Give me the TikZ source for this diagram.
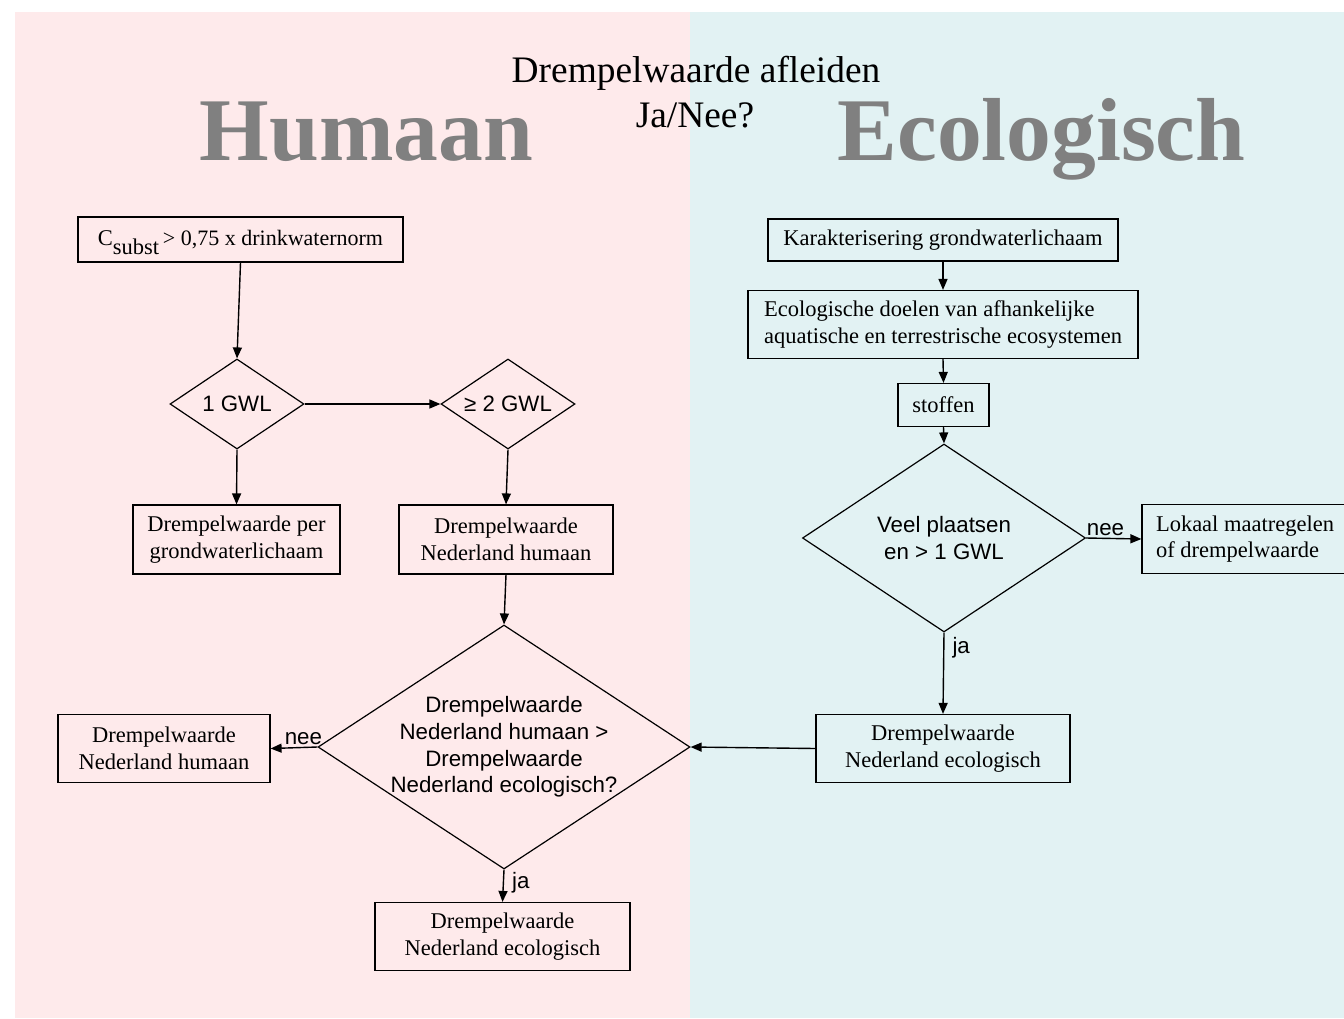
\documentclass[tikz,border=0pt]{standalone}
\usepackage{fontspec}
\setmainfont{Liberation Serif}
\newfontfamily\arialf{Liberation Sans}
\usetikzlibrary{shapes.geometric,arrows.meta}
\definecolor{pinkbg}{HTML}{FEEAEB}
\definecolor{tealbg}{HTML}{E2F2F3}
\definecolor{biggray}{HTML}{808080}
\tikzset{
  box/.style={draw=black,line width=1.2pt,inner sep=0pt,align=center,
    font=\fontsize{22.5}{26.5}\selectfont},
  leftbox/.style={box,align=left},
  dia/.style={draw=black,line width=1.2pt,shape=diamond,inner sep=0pt},
  diatext/.style={align=center,font=\arialf\fontsize{22.3}{26.8}\selectfont},
  conn/.style={line width=1.4pt,-{Triangle[length=11pt,width=9pt]}},
  lbl/.style={font=\arialf\fontsize{22.3}{26}\selectfont,inner sep=2pt},
}
\begin{document}
\begin{tikzpicture}[x=1pt,y=-1pt]
\useasboundingbox (0,0) rectangle (1344,1018);
\fill[white] (0,0) rectangle (1344,1018);
\fill[pinkbg] (15,12) rectangle (690,1018);
\fill[tealbg] (690,12) rectangle (1344,1018);

% titles
\node[anchor=base,font=\fontsize{89.5}{100}\selectfont\bfseries,text=biggray,inner sep=0] (hum) at (366.5,160) {Humaan};
\node[anchor=base,font=\fontsize{89.5}{100}\selectfont\bfseries,text=biggray,inner sep=0] (eco) at (1041.5,160) {Ecologisch};
\node[anchor=base,font=\fontsize{37.4}{45}\selectfont,inner sep=0] (t1) at (696,82) {Drempelwaarde afleiden};
\node[anchor=base,font=\fontsize{37.4}{45}\selectfont,inner sep=0] (t2) at (695,127) {Ja/Nee?};

% left column
\node[box,minimum width=325pt,minimum height=45pt] (b1) at (240.5,239.5)
  {C\smash{\raisebox{-9pt}{subst}}\,\fontsize{22}{25}\selectfont> 0,75 x drinkwaternorm};
\node[dia,minimum width=134pt,minimum height=90pt,
  label={[diatext]center:1 GWL}] (d1) at (237,404) {};
\node[dia,minimum width=134pt,minimum height=90pt,
  label={[diatext]center:≥ 2 GWL}] (d2) at (508,404) {};
\node[box,minimum width=207pt,minimum height=69pt] (b2) at (236.5,539.5)
  {Drempelwaarde per\\grondwaterlichaam};
\node[box,minimum width=214pt,minimum height=69pt] (b3) at (506,539.5)
  {Drempelwaarde\\Nederland humaan};
\node[dia,minimum width=372pt,minimum height=244pt,
  label={[diatext]center:Drempelwaarde\\Nederland humaan >\\Drempelwaarde\\Nederland ecologisch?}] (d3) at (504,747) {};
\node[box,minimum width=212pt,minimum height=68pt] (b4) at (164,748.5)
  {Drempelwaarde\\Nederland humaan};
\node[box,minimum width=255pt,minimum height=68pt] (b5) at (502.5,936.5)
  {Drempelwaarde\\Nederland ecologisch};

% right column
\node[box,minimum width=350pt,minimum height=42pt] (b6) at (943,240)
  {Karakterisering grondwaterlichaam};
\node[leftbox,minimum width=390pt,minimum height=68pt] (b7) at (943,324.5)
  {Ecologische doelen van afhankelijke\\aquatische en terrestrische ecosystemen};
\node[box,minimum width=91pt,minimum height=43pt] (b8) at (943.5,405) {stoffen};
\node[dia,minimum width=283pt,minimum height=188pt,
  label={[diatext]center:Veel plaatsen\\en > 1 GWL}] (d4) at (944,538) {};
\node[leftbox,minimum width=206pt,minimum height=69pt] (b9) at (1245,539)
  {Lokaal maatregelen\\of drempelwaarde};
\node[box,minimum width=254pt,minimum height=68pt] (b10) at (943,748.5)
  {Drempelwaarde\\Nederland ecologisch};

% connectors
\draw[conn] (b1.south) -- (d1.north);
\draw[conn] (d1.east) -- (d2.west);
\draw[conn] (d1.south) -- (b2.north);
\draw[conn] (d2.south) -- (b3.north);
\draw[conn] (b3.south) -- (d3.north);
\draw[conn] (d3.west) -- node[lbl,pos=0.3,above] {nee} (b4.east);
\draw[conn] (d3.south) -- node[lbl,pos=0.42,right=6pt] {ja} (b5.north);
\draw[conn] (b10.west) -- (d3.east);
\draw[conn] (b6.south) -- (b7.north);
\draw[conn] (b7.south) -- (b8.north);
\draw[conn] (b8.south) -- (d4.north);
\draw[conn] (d4.east) -- node[lbl,pos=0.35,above] {nee} (b9.west);
\draw[conn] (d4.south) -- node[lbl,pos=0.18,right=6pt] {ja} (b10.north);
\end{tikzpicture}
\end{document}
